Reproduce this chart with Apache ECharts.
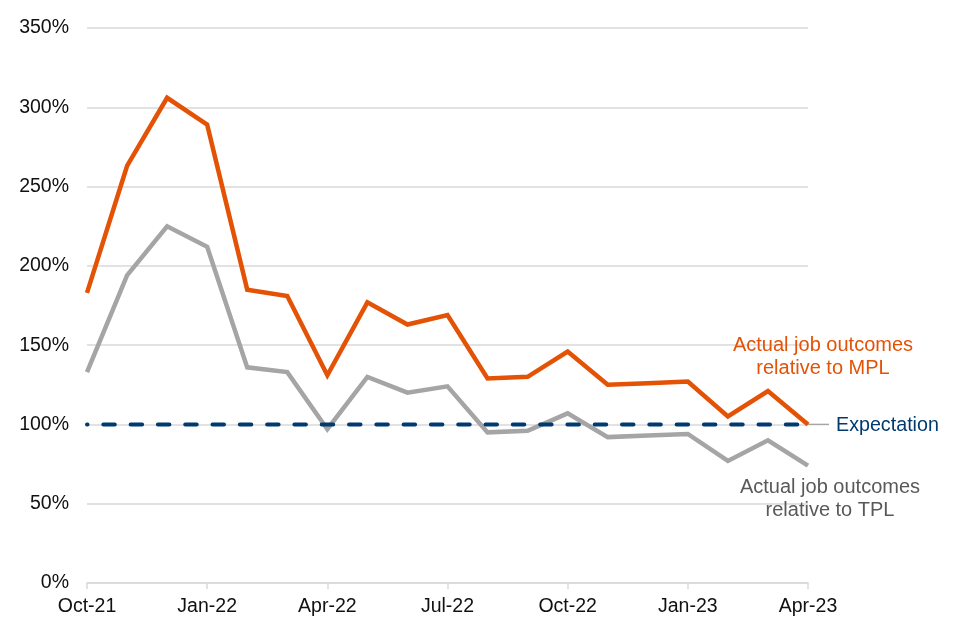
<!DOCTYPE html>
<html>
<head>
<meta charset="utf-8">
<script src="https://cdn.jsdelivr.net/npm/echarts@6/dist/echarts.min.js"></script>
<style>
html,body{margin:0;padding:0;background:#fff;}
#chart{width:960px;height:640px;}
</style>
</head>
<body>
<div id="chart"></div>
<script>
var months = ['Oct-21','Nov-21','Dec-21','Jan-22','Feb-22','Mar-22','Apr-22','May-22','Jun-22','Jul-22','Aug-22','Sep-22','Oct-22','Nov-22','Dec-22','Jan-23','Feb-23','Mar-23','Apr-23'];
var mplValues = [183, 263, 306, 289, 185, 181, 131, 177, 163, 169, 129, 130, 146, 125, 126, 127, 105, 121, 100];
var tplValues = [133, 194, 225, 212, 136, 133, 97, 130, 120, 124, 95, 96, 107, 92, 93, 94, 77, 90, 74];
var expectationValues = [100,100,100,100,100,100,100,100,100,100,100,100,100,100,100,100,100,100,100];
var mplLabel = 'Actual job outcomes\nrelative to MPL';
var tplLabel = 'Actual job outcomes\nrelative to TPL';
var expectationLabel = 'Expectation';

var FONT = "'Liberation Sans', Arial, sans-serif";
var ORANGE = '#E35205';
var GREY = '#A5A5A5';
var NAVY = '#003A70';

var chart = echarts.init(document.getElementById('chart'), null, {renderer: 'canvas'});
var option = {
  animation: false,
  backgroundColor: '#fff',
  grid: {left: 87, right: 152, top: 28, bottom: 57, containLabel: false},
  xAxis: {
    type: 'category',
    data: months,
    boundaryGap: false,
    axisLine: {lineStyle: {color: '#d9d9d9', width: 1.5}},
    axisTick: {show: true, interval: 2, length: 6, lineStyle: {color: '#d9d9d9', width: 1.5}},
    axisLabel: {interval: 2, color: '#111', fontFamily: FONT, fontSize: 19.5, margin: 14},
    splitLine: {show: false}
  },
  yAxis: {
    type: 'value',
    min: 0, max: 350, interval: 50,
    axisLine: {show: false},
    axisTick: {show: false},
    axisLabel: {formatter: '{value}%', color: '#111', fontFamily: FONT, fontSize: 19.5, margin: 18},
    splitLine: {lineStyle: {color: '#d9d9d9', width: 1.5}}
  },
  series: [
    {
      name: 'Expectation', type: 'line', data: expectationValues,
      symbol: 'none', z: 3,
      lineStyle: {color: NAVY, width: 4, type: [11.5, 15.8], dashOffset: 11, cap: 'round'}
    },
    {
      name: 'TPL', type: 'line', data: tplValues,
      symbol: 'none', z: 2,
      lineStyle: {color: GREY, width: 4.5, join: 'miter'}
    },
    {
      name: 'MPL', type: 'line', data: mplValues,
      symbol: 'none', z: 4,
      lineStyle: {color: ORANGE, width: 4.5, join: 'miter'}
    }
  ]
};
chart.setOption(option);

var endPt = chart.convertToPixel({gridIndex: 0}, [months.length - 1, expectationValues[expectationValues.length - 1]]);
chart.setOption({
  graphic: [
    {type: 'line', z: 1, shape: {x1: endPt[0], y1: endPt[1], x2: endPt[0] + 21, y2: endPt[1]},
     style: {stroke: '#a6a6a6', lineWidth: 1.5}},
    {type: 'text', x: endPt[0] + 28, y: endPt[1] + 1,
     style: {text: expectationLabel, fill: NAVY, font: '19.7px ' + FONT, textAlign: 'left', textVerticalAlign: 'middle'}},
    {type: 'text', x: endPt[0] + 15, y: endPt[1] - 67,
     style: {text: mplLabel, fill: ORANGE, font: '20px ' + FONT, textAlign: 'center', textVerticalAlign: 'middle', lineHeight: 23}},
    {type: 'text', x: endPt[0] + 22, y: endPt[1] + 75,
     style: {text: tplLabel, fill: '#595959', font: '20px ' + FONT, textAlign: 'center', textVerticalAlign: 'middle', lineHeight: 23}}
  ]
});
</script>
</body>
</html>
